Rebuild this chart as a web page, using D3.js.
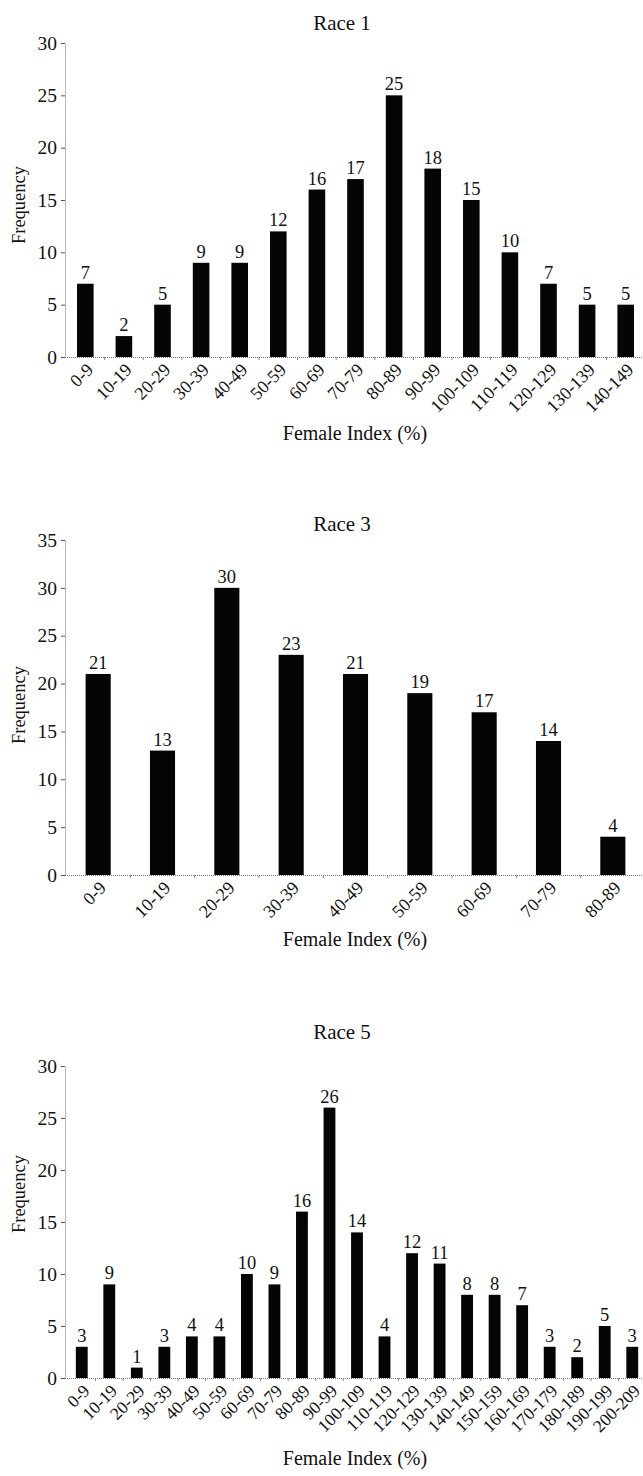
<!DOCTYPE html>
<html>
<head>
<meta charset="utf-8">
<script src="https://cdn.jsdelivr.net/npm/d3@7"></script>
<style>
  body { margin: 0; background: #fff; }
  svg text { font-family: "Liberation Serif", "Times New Roman", serif; fill: #111; }
</style>
</head>
<body>
<svg width="643" height="1476"></svg>
<script>
// data
var race1Bins = ["0-9","10-19","20-29","30-39","40-49","50-59","60-69","70-79","80-89","90-99","100-109","110-119","120-129","130-139","140-149"];
var race1Freq = [7, 2, 5, 9, 9, 12, 16, 17, 25, 18, 15, 10, 7, 5, 5];
var race1Ticks = [0, 5, 10, 15, 20, 25, 30];

var race3Bins = ["0-9","10-19","20-29","30-39","40-49","50-59","60-69","70-79","80-89"];
var race3Freq = [21, 13, 30, 23, 21, 19, 17, 14, 4];
var race3Ticks = [0, 5, 10, 15, 20, 25, 30, 35];

var race5Bins = ["0-9","10-19","20-29","30-39","40-49","50-59","60-69","70-79","80-89","90-99","100-109","110-119","120-129","130-139","140-149","150-159","160-169","170-179","180-189","190-199","200-209"];
var race5Freq = [3, 9, 1, 3, 4, 4, 10, 9, 16, 26, 14, 4, 12, 11, 8, 8, 7, 3, 2, 5, 3];
var race5Ticks = [0, 5, 10, 15, 20, 25, 30];

var svg = d3.select("svg");

function drawChart(o) {
  var g = svg.append("g");

  var x = d3.scaleBand()
    .domain(o.bins)
    .range(o.xRange)
    .paddingInner(o.pad)
    .paddingOuter(o.pad / 2);

  var y = d3.scaleLinear()
    .domain([0, d3.max(o.ticks)])
    .range(o.yRange);

  // y axis
  var yAxis = g.append("g")
    .attr("transform", "translate(65,0)")
    .call(d3.axisLeft(y).tickValues(o.ticks).tickSize(4).tickPadding(4).tickSizeOuter(0));
  yAxis.select(".domain").attr("stroke", "#777").attr("stroke-dasharray", "1,1");
  yAxis.selectAll(".tick line").attr("stroke", "#555");
  yAxis.selectAll("text").style("font-size", "19.5px").style("font-family", "Liberation Serif").attr("fill", "#111");

  // x axis
  var xAxis = g.append("g")
    .attr("transform", "translate(0," + o.yRange[0] + ")")
    .call(d3.axisBottom(x).tickSize(0).tickSizeOuter(0));
  xAxis.select(".domain").attr("d", "M65,0.5H643").attr("stroke", "#777").attr("stroke-dasharray", "1,1");
  xAxis.selectAll("text")
    .style("font-size", o.lSize).style("font-family", "Liberation Serif").attr("fill", "#111")
    .attr("text-anchor", "end")
    .attr("dy", null).attr("y", 0)
    .attr("transform", "translate(" + o.lx + "," + o.ly + ") rotate(-45)");

  // small ticks between the bins
  g.append("g").selectAll("line")
    .data(o.bins.slice(1))
    .join("line")
    .attr("x1", d => x(d) - x.step() * x.paddingInner() / 2)
    .attr("x2", d => x(d) - x.step() * x.paddingInner() / 2)
    .attr("y1", o.yRange[0])
    .attr("y2", o.yRange[0] + 3)
    .attr("stroke", "#888");

  // bars
  g.append("g").selectAll("rect")
    .data(o.freq)
    .join("rect")
    .attr("x", (d, i) => x(o.bins[i]))
    .attr("y", d => y(d))
    .attr("width", x.bandwidth())
    .attr("height", d => y(0) - y(d))
    .attr("fill", "#050505");

  // value labels
  g.append("g").selectAll("text")
    .data(o.freq)
    .join("text")
    .attr("x", (d, i) => x(o.bins[i]) + x.bandwidth() / 2)
    .attr("y", d => y(d) - 5)
    .attr("text-anchor", "middle")
    .style("font-size", "18.5px")
    .text(d => d);

  // title
  g.append("text")
    .attr("x", 342)
    .attr("y", o.titleY)
    .attr("text-anchor", "middle")
    .style("font-size", "21px")
    .text(o.title);

  // axis titles
  g.append("text")
    .attr("transform", "translate(25," + o.freqY + ") rotate(-90)")
    .attr("text-anchor", "middle")
    .style("font-size", "18.5px")
    .text("Frequency");

  g.append("text")
    .attr("x", 355)
    .attr("y", o.xTitleY)
    .attr("text-anchor", "middle")
    .style("font-size", "20px")
    .text("Female Index (%)");
}

drawChart({
  bins: race1Bins, freq: race1Freq, ticks: race1Ticks, title: "Race 1",
  xRange: [66, 645], pad: 0.57, yRange: [357, 43], lSize: "18px",
  lx: 9, ly: 14, titleY: 30, freqY: 205, xTitleY: 440
});

drawChart({
  bins: race3Bins, freq: race3Freq, ticks: race3Ticks, title: "Race 3",
  xRange: [66, 645], pad: 0.61, yRange: [875, 540], lSize: "18px",
  lx: 9, ly: 14, titleY: 531, freqY: 705, xTitleY: 946
});

drawChart({
  bins: race5Bins, freq: race5Freq, ticks: race5Ticks, title: "Race 5",
  xRange: [68, 646], pad: 0.57, yRange: [1378, 1066], lSize: "17.5px",
  lx: 9, ly: 14, titleY: 1039, freqY: 1194, xTitleY: 1465
});
</script>
</body>
</html>
